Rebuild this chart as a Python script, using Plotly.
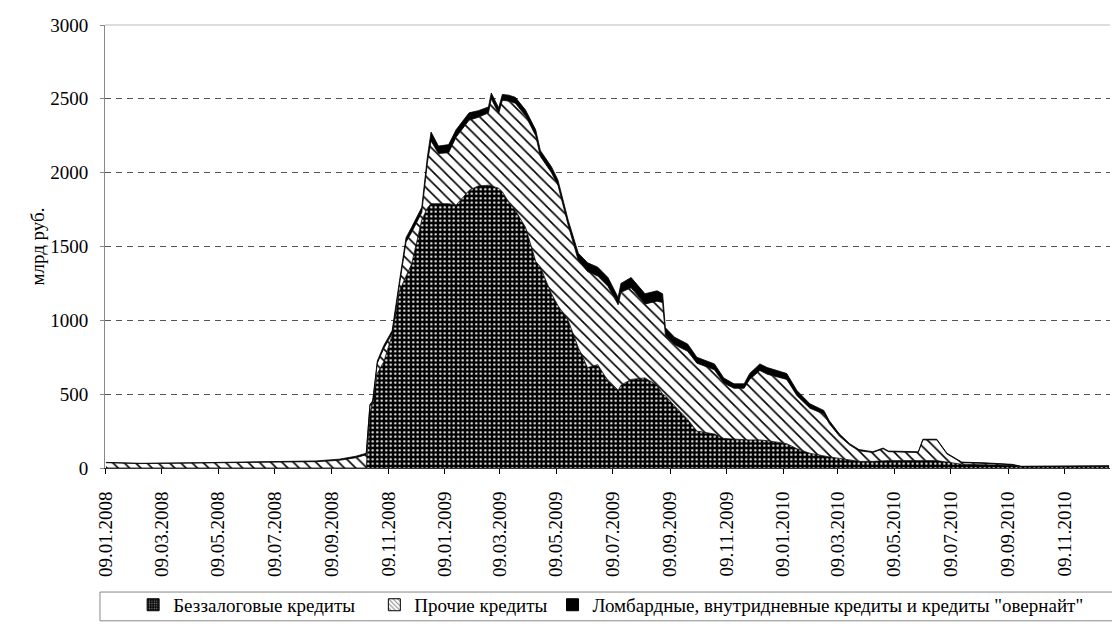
import plotly.graph_objects as go

dates = [
    "2008-01-09", "2008-02-15", "2008-04-20", "2008-07-04", "2008-08-23", "2008-09-17",
    "2008-10-05", "2008-10-16", "2008-10-20", "2008-10-23", "2008-10-28", "2008-11-04",
    "2008-11-13", "2008-11-21", "2008-11-28", "2008-12-04", "2008-12-15", "2008-12-21",
    "2008-12-25", "2009-01-02", "2009-01-13", "2009-01-21", "2009-02-04", "2009-02-14",
    "2009-02-25", "2009-02-28", "2009-03-08", "2009-03-12", "2009-03-19", "2009-03-26",
    "2009-04-06", "2009-04-17", "2009-04-22", "2009-05-04", "2009-05-11", "2009-05-22",
    "2009-06-02", "2009-06-12", "2009-06-23", "2009-07-04", "2009-07-15", "2009-07-18",
    "2009-07-29", "2009-08-13", "2009-08-26", "2009-09-01", "2009-09-04", "2009-09-14",
    "2009-09-28", "2009-10-08", "2009-10-27", "2009-11-06", "2009-11-17", "2009-11-28",
    "2009-12-04", "2009-12-15", "2009-12-23", "2010-01-13", "2010-01-24", "2010-02-07",
    "2010-02-22", "2010-02-28", "2010-03-11", "2010-03-22", "2010-04-01", "2010-04-16",
    "2010-04-27", "2010-05-03", "2010-06-04", "2010-06-09", "2010-06-24", "2010-07-05",
    "2010-07-13", "2010-07-21", "2010-08-15", "2010-09-13", "2010-09-23", "2010-10-29",
    "2010-12-27",
]

# Беззалоговые кредиты (bottom, dotted)
bezzalog = [
    0, 0, 0, 0, 0, 0,
    0, 0, 380, 440, 640, 720,
    900, 1200, 1300, 1380, 1680, 1760,
    1790, 1790, 1790, 1780, 1880, 1910,
    1915, 1910, 1895, 1870, 1800, 1745,
    1630, 1400, 1360, 1180, 1100, 1000,
    815, 680, 700, 590, 525, 560,
    600, 610, 560, 500, 490, 420,
    330, 250, 230, 200, 195, 190,
    190, 190, 185, 165, 130, 100,
    80, 75, 65, 55, 45, 45,
    50, 50, 50, 50, 50, 40,
    30, 25, 22, 18, 8, 10,
    10,
]

# Прочие кредиты (middle, hatched)
prochie = [
    36, 30, 34, 37, 43, 52,
    70, 90, 40, 5, 70, 90,
    10, 45, 230, 215, 50, 305,
    425, 340, 345, 460, 475, 465,
    490, 590, 505, 620, 685, 725,
    755, 850, 750, 820, 815, 645,
    590, 650, 600, 640, 580, 630,
    620, 500, 570, 620, 410, 415,
    460, 460, 435, 375, 345, 350,
    410, 470, 450, 435, 360, 305,
    285, 225, 150, 100, 72, 60,
    80, 60, 55, 140, 140, 55,
    35, 11, 9, 4, 2, 3,
    3,
]

# Ломбардные, внутридневные кредиты и кредиты "овернайт" (top, solid black)
lombard = [
    2, 2, 2, 8, 5, 8,
    10, 10, 10, 10, 15, 20,
    20, 25, 30, 35, 35, 40,
    60, 50, 55, 50, 50, 45,
    40, 40, 40, 40, 40, 40,
    40, 40, 40, 40, 35, 35,
    50, 60, 60, 60, 50, 60,
    70, 70, 70, 60, 50, 50,
    50, 40, 40, 35, 30, 30,
    40, 45, 45, 40, 35, 30,
    25, 20, 15, 10, 8, 5,
    5, 5, 5, 5, 5, 5,
    5, 4, 4, 3, 2, 2,
    2,
]

tick_dates = [
    "2008-01-09", "2008-03-09", "2008-05-09", "2008-07-09", "2008-09-09", "2008-11-09",
    "2009-01-09", "2009-03-09", "2009-05-09", "2009-07-09", "2009-09-09", "2009-11-09",
    "2010-01-09", "2010-03-09", "2010-05-09", "2010-07-09", "2010-09-09", "2010-11-09",
]
tick_labels = [
    "09.01.2008", "09.03.2008", "09.05.2008", "09.07.2008", "09.09.2008", "09.11.2008",
    "09.01.2009", "09.03.2009", "09.05.2009", "09.07.2009", "09.09.2009", "09.11.2009",
    "09.01.2010", "09.03.2010", "09.05.2010", "09.07.2010", "09.09.2010", "09.11.2010",
]
y_ticks = [0, 500, 1000, 1500, 2000, 2500, 3000]

names = [
    "Беззалоговые кредиты",
    "Прочие кредиты",
    "Ломбардные, внутридневные кредиты и кредиты \"овернайт\"",
]
legend_pad = ["\u00a0\u00a0\u00a0", "", ""]

FONT = "Liberation Serif"

dot_pattern = dict(shape=".", bgcolor="black", fgcolor="white", size=4.5,
                   solidity=0.2, fillmode="replace")
hatch_pattern = dict(shape="\\", bgcolor="white", fgcolor="black", size=8,
                     solidity=0.2, fillmode="replace")

fig = go.Figure()
fig.add_trace(go.Scatter(
    x=dates, y=bezzalog, stackgroup="one", mode="lines", name=names[0],
    line=dict(color="black", width=0.8), fillcolor="black",
    fillpattern=dot_pattern, showlegend=False))
fig.add_trace(go.Scatter(
    x=dates, y=prochie, stackgroup="one", mode="lines", name=names[1],
    line=dict(color="black", width=0.8), fillcolor="white",
    fillpattern=hatch_pattern, showlegend=False))
fig.add_trace(go.Scatter(
    x=dates, y=lombard, stackgroup="one", mode="lines", name=names[2],
    line=dict(color="black", width=0.8), fillcolor="black", showlegend=False))

# legend proxies (square swatches like the original)
fig.add_trace(go.Bar(x=[None], y=[None], name=names[0] + legend_pad[0],
                     marker=dict(color="black", pattern=dict(shape=".", bgcolor="black", fgcolor="white",
                                                             size=3, solidity=0.3),
                                 line=dict(color="black", width=1))))
fig.add_trace(go.Bar(x=[None], y=[None], name=names[1] + legend_pad[1],
                     marker=dict(color="white", pattern=dict(shape="\\", bgcolor="white", fgcolor="black",
                                                             size=4, solidity=0.3),
                                 line=dict(color="black", width=1))))
fig.add_trace(go.Bar(x=[None], y=[None], name=names[2] + legend_pad[2],
                     marker=dict(color="black", line=dict(color="black", width=1))))

fig.update_layout(
    width=1112, height=635,
    margin=dict(l=105, r=2, t=25, b=167),
    paper_bgcolor="white", plot_bgcolor="white",
    font=dict(family=FONT, color="black", size=19),
    showlegend=True,
    legend=dict(orientation="h", x=0.028, xanchor="left", y=-0.309, yanchor="middle",
                traceorder="normal", font=dict(family=FONT, size=19, color="black"),
                bgcolor="rgba(0,0,0,0)", itemwidth=30),
    xaxis=dict(
        type="date", range=["2008-01-08", "2010-12-28"],
        tickmode="array", tickvals=tick_dates, ticktext=tick_labels,
        tickangle=-90, ticks="outside", ticklen=5, tickcolor="black",
        ticklabelstandoff=10,
        showgrid=False, showline=True, linecolor="#333", linewidth=1,
        tickfont=dict(family=FONT, size=19, color="black"), zeroline=False,
    ),
    yaxis=dict(
        range=[0, 3000], tickmode="array", tickvals=y_ticks,
        showgrid=True, gridcolor="#555", griddash="6px,5px", gridwidth=1,
        showline=True, linecolor="#888", linewidth=1,
        ticks="outside", ticklen=4, tickcolor="#888",
        ticklabelstandoff=8,
        tickfont=dict(family=FONT, size=19, color="black"), zeroline=False,
        title=dict(text="млрд руб.", standoff=0, font=dict(family=FONT, size=19)),
        automargin=False,
    ),
    shapes=[
        dict(type="line", xref="paper", yref="paper", x0=0, x1=1, y0=1, y1=1,
             line=dict(color="#bbb", width=1)),
        dict(type="rect", xref="paper", yref="paper", x0=-0.005, x1=1.01,
             y0=-0.280, y1=-0.345, line=dict(color="#888", width=1), fillcolor="rgba(0,0,0,0)"),
    ],
)

fig.write_html(
    "out.html",
    config={"displayModeBar": False},
    post_script="document.body.style.margin='0';document.body.style.overflow='hidden';",
)
